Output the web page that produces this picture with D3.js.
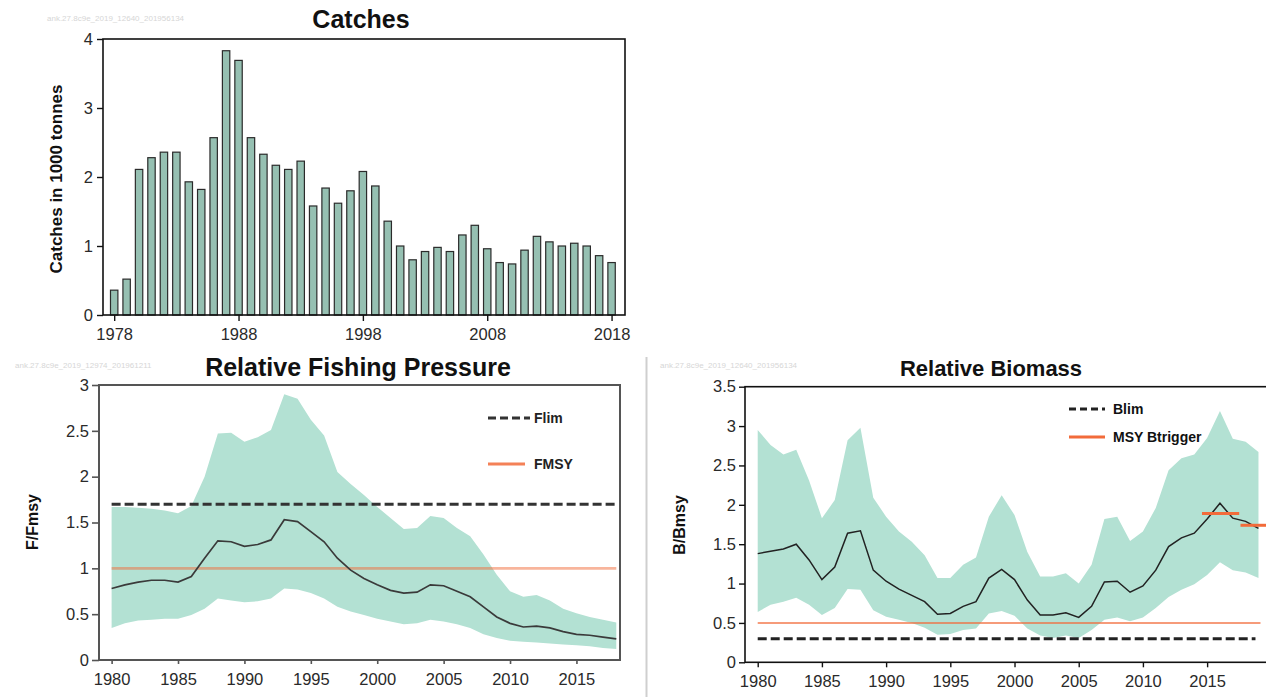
<!DOCTYPE html>
<html><head><meta charset="utf-8">
<script src="https://cdn.jsdelivr.net/npm/d3@7"></script>
<style>
body{margin:0;background:#fff;}
svg{display:block;font-family:"Liberation Sans",Arial,sans-serif;}
</style></head>
<body><svg id="c" width="1266" height="697"></svg>
<script>
// ---------- DATA ----------
const catchYears = d3.range(1978, 2019);
const catchValues = [0.36,0.52,2.11,2.28,2.36,2.36,1.93,1.82,2.57,3.83,3.69,2.57,2.33,2.17,2.11,2.23,1.58,1.84,1.62,1.80,
  2.08,1.87,1.36,1.00,0.80,0.92,0.98,0.92,1.16,1.30,0.96,0.76,0.74,0.94,1.14,1.06,1.00,1.04,1.00,0.86,0.76];
const catchYTicks = [0,1,2,3,4];
const catchXTicks = [1978,1988,1998,2008,2018];

const fYears = d3.range(1980, 2019);
const fMedian = [0.78,0.82,0.85,0.87,0.87,0.85,0.91,1.11,1.30,1.29,1.24,1.26,1.31,1.53,1.51,1.40,1.29,
  1.11,0.98,0.89,0.82,0.76,0.73,0.74,0.82,0.81,0.75,0.69,0.58,0.47,0.40,0.36,0.37,0.35,0.31,0.28,0.27,0.25,0.23];
const fHigh = [1.67,1.67,1.66,1.65,1.63,1.60,1.68,2.00,2.47,2.48,2.38,2.43,2.51,2.90,2.85,2.62,2.45,
  2.05,1.92,1.80,1.67,1.55,1.43,1.44,1.57,1.55,1.44,1.35,1.15,0.93,0.75,0.69,0.71,0.65,0.56,0.51,0.47,0.44,0.41];
const fLow = [0.35,0.40,0.43,0.44,0.45,0.45,0.49,0.56,0.67,0.65,0.63,0.64,0.67,0.78,0.77,0.73,0.67,
  0.58,0.53,0.49,0.45,0.42,0.39,0.40,0.44,0.42,0.39,0.35,0.28,0.24,0.21,0.20,0.19,0.18,0.17,0.16,0.15,0.13,0.12];
const fYTicks = [0,0.5,1,1.5,2,2.5,3];
const fXTicks = [1980,1985,1990,1995,2000,2005,2010,2015];
const Flim = 1.7, FMSY = 1.0;

const bYears = d3.range(1980, 2020);
const bMedian = [1.38,1.41,1.44,1.50,1.30,1.05,1.21,1.64,1.67,1.17,1.03,0.93,0.85,0.77,0.61,0.62,
  0.71,0.77,1.07,1.18,1.05,0.79,0.60,0.60,0.63,0.57,0.71,1.02,1.03,0.89,0.97,1.17,1.47,1.58,1.64,1.82,2.02,1.83,1.79,1.70];
const bHigh = [2.95,2.76,2.64,2.70,2.31,1.83,2.06,2.82,2.98,2.09,1.85,1.66,1.53,1.36,1.07,1.07,
  1.24,1.33,1.85,2.12,1.87,1.40,1.09,1.09,1.13,1.00,1.24,1.82,1.85,1.54,1.66,1.96,2.44,2.59,2.64,2.85,3.19,2.84,2.80,2.67];
const bLow = [0.64,0.73,0.77,0.82,0.73,0.60,0.69,0.93,0.92,0.66,0.58,0.54,0.50,0.44,0.35,0.36,
  0.41,0.43,0.62,0.65,0.59,0.43,0.34,0.31,0.34,0.31,0.41,0.54,0.57,0.52,0.57,0.69,0.83,0.92,0.99,1.11,1.27,1.17,1.14,1.07];
const bYTicks = [0,0.5,1,1.5,2,2.5,3,3.5];
const bXTicks = [1980,1985,1990,1995,2000,2005,2010,2015];
const Blim = 0.3, MSYBtrigger = 0.5;
const triggerSegStart = [2014.6, 2017.6];
const triggerSegEnd = [2017.5, 2019.7];
const triggerSegValue = [1.89, 1.74];

// ---------- STYLE ----------
const bandColor = "#b3e1d3";
const barColor = "#96c0b2";
const orange = "#f26b3a";
const tickFont = 16.5;

const svg = d3.select("#c");

function styleAxis(g, color, width){
  g.select(".domain").remove();
  g.selectAll(".tick line").attr("stroke", color).attr("stroke-width", width);
  g.selectAll(".tick text").attr("fill", "#2a2a2a").style("font-size", tickFont + "px")
    .style("font-family", '"Liberation Sans", Arial, sans-serif');
}

function watermark(x, y, t){
  svg.append("text").attr("x", x).attr("y", y).attr("fill", "#d6d6d6")
    .style("font-size", "8px").text(t);
}

// ================= CATCHES =================
{
  const L = 103, R = 625, T = 39, B = 315;
  const x = d3.scaleLinear().domain([1977.1, 2019.08]).range([L, R]);
  const y = d3.scaleLinear().domain([0, 4]).range([B, T]);
  const bw = 7.4;
  const g = svg.append("g");
  g.selectAll("rect.bar").data(catchValues).join("rect")
    .attr("x", (d, i) => x(catchYears[i]) - bw / 2)
    .attr("y", d => y(d))
    .attr("width", bw)
    .attr("height", d => y(0) - y(d))
    .attr("fill", barColor).attr("stroke", "#2b2b2b").attr("stroke-width", 1.2);
  g.append("rect").attr("x", L).attr("y", T).attr("width", R - L).attr("height", B - T)
    .attr("fill", "none").attr("stroke", "#111").attr("stroke-width", 1.6);
  const ya = g.append("g").attr("transform", `translate(${L},0)`)
    .call(d3.axisLeft(y).tickValues(catchYTicks).tickSize(6).tickPadding(4).tickFormat(d3.format("d")));
  styleAxis(ya, "#111", 1.4);
  const xa = g.append("g").attr("transform", `translate(0,${B})`)
    .call(d3.axisBottom(x).tickValues(catchXTicks).tickSize(6).tickPadding(7).tickFormat(d3.format("d")));
  styleAxis(xa, "#111", 1.4);
  svg.append("text").attr("x", 361).attr("y", 28).attr("text-anchor", "middle")
    .style("font-size", "25px").style("font-weight", "bold").attr("fill", "#111").text("Catches");
  svg.append("text").attr("transform", `translate(62,${(T + B) / 2 + 2}) rotate(-90)`)
    .attr("text-anchor", "middle").style("font-size", "17px").style("font-weight", "bold")
    .attr("fill", "#111").text("Catches in 1000 tonnes");
  watermark(47, 21, "ank.27.8c9e_2019_12640_201956134");
}

// ================= RELATIVE FISHING PRESSURE =================
{
  const L = 99, R = 620, T = 385, B = 660;
  const x = d3.scaleLinear().domain([1979.05, 2018.28]).range([L, R]);
  const y = d3.scaleLinear().domain([0, 3]).range([B, T]);
  const g = svg.append("g");
  const area = d3.area().x((d, i) => x(fYears[i])).y0((d, i) => y(fLow[i])).y1(d => y(d));
  g.append("path").datum(fHigh).attr("d", area).attr("fill", bandColor);
  const yr = d3.extent(fYears);
  g.append("line").attr("x1", x(yr[0])).attr("x2", x(yr[1])).attr("y1", y(FMSY)).attr("y2", y(FMSY))
    .attr("stroke", orange).attr("stroke-opacity", 0.5).attr("stroke-width", 2.6);
  g.append("line").attr("x1", x(yr[0])).attr("x2", R - 2).attr("y1", y(Flim)).attr("y2", y(Flim))
    .attr("stroke", "#333").attr("stroke-width", 3).attr("stroke-dasharray", "9,4");
  const line = d3.line().x((d, i) => x(fYears[i])).y(d => y(d));
  g.append("path").datum(fMedian).attr("d", line).attr("fill", "none")
    .attr("stroke", "#3a3a3a").attr("stroke-width", 1.7);
  g.append("rect").attr("x", L).attr("y", T).attr("width", R - L).attr("height", B - T)
    .attr("fill", "none").attr("stroke", "#555").attr("stroke-width", 2);
  const ya = g.append("g").attr("transform", `translate(${L},0)`)
    .call(d3.axisLeft(y).tickValues(fYTicks).tickSize(7).tickPadding(3).tickFormat(d => d));
  styleAxis(ya, "#555", 1.6);
  const xa = g.append("g").attr("transform", `translate(0,${B})`)
    .call(d3.axisBottom(x).tickValues(fXTicks).tickSize(4).tickPadding(9).tickFormat(d3.format("d")));
  styleAxis(xa, "#555", 1.6);
  // legend
  g.append("line").attr("x1", 488).attr("x2", 530).attr("y1", 418).attr("y2", 418)
    .attr("stroke", "#333").attr("stroke-width", 3).attr("stroke-dasharray", "8,4");
  g.append("text").attr("x", 534).attr("y", 423).style("font-size", "14px").style("font-weight", "bold")
    .attr("fill", "#222").text("Flim");
  g.append("line").attr("x1", 488).attr("x2", 525).attr("y1", 464).attr("y2", 464)
    .attr("stroke", orange).attr("stroke-opacity", 0.85).attr("stroke-width", 3);
  g.append("text").attr("x", 534).attr("y", 469).style("font-size", "14px").style("font-weight", "bold")
    .attr("fill", "#222").text("FMSY");
  svg.append("text").attr("x", 358).attr("y", 376).attr("text-anchor", "middle")
    .style("font-size", "25px").style("font-weight", "bold").attr("fill", "#111").text("Relative Fishing Pressure");
  svg.append("text").attr("transform", `translate(38,522) rotate(-90)`)
    .attr("text-anchor", "middle").style("font-size", "16px").style("font-weight", "bold")
    .attr("fill", "#111").text("F/Fmsy");
  watermark(15, 368, "ank.27.8c9e_2019_12974_201961211");
}

// separator
svg.append("line").attr("x1", 646.5).attr("x2", 646.5).attr("y1", 357).attr("y2", 697)
  .attr("stroke", "#cfcfcf").attr("stroke-width", 2);

// ================= RELATIVE BIOMASS =================
{
  const L = 745, R = 1264, T = 386.7, B = 662.3;
  const x = d3.scaleLinear().domain([1979.01, 2019.43]).range([L, R]);
  const y = d3.scaleLinear().domain([0, 3.5]).range([B, T]);
  const g = svg.append("g");
  const area = d3.area().x((d, i) => x(bYears[i])).y0((d, i) => y(bLow[i])).y1(d => y(d));
  g.append("path").datum(bHigh).attr("d", area).attr("fill", bandColor);
  const yr = d3.extent(bYears);
  g.append("line").attr("x1", x(yr[0])).attr("x2", x(yr[1]) + 2).attr("y1", y(MSYBtrigger)).attr("y2", y(MSYBtrigger))
    .attr("stroke", orange).attr("stroke-opacity", 0.9).attr("stroke-width", 1.4);
  g.append("line").attr("x1", x(yr[0])).attr("x2", x(yr[1]) - 3).attr("y1", y(Blim)).attr("y2", y(Blim))
    .attr("stroke", "#222").attr("stroke-width", 3).attr("stroke-dasharray", "9,4");
  const line = d3.line().x((d, i) => x(bYears[i])).y(d => y(d));
  g.append("path").datum(bMedian).attr("d", line).attr("fill", "none")
    .attr("stroke", "#222").attr("stroke-width", 1.5);
  g.selectAll("line.seg").data(triggerSegValue).join("line").attr("class", "seg")
    .attr("x1", (d, i) => x(triggerSegStart[i])).attr("x2", (d, i) => x(triggerSegEnd[i]))
    .attr("y1", d => y(d)).attr("y2", d => y(d))
    .attr("stroke", orange).attr("stroke-width", 3);
  g.append("rect").attr("x", L).attr("y", T).attr("width", R - L + 4).attr("height", B - T)
    .attr("fill", "none").attr("stroke", "#111").attr("stroke-width", 1.6);
  const ya = g.append("g").attr("transform", `translate(${L},0)`)
    .call(d3.axisLeft(y).tickValues(bYTicks).tickSize(6).tickPadding(3).tickFormat(d => d));
  styleAxis(ya, "#111", 1.4);
  const xa = g.append("g").attr("transform", `translate(0,${B})`)
    .call(d3.axisBottom(x).tickValues(bXTicks).tickSize(5).tickPadding(8).tickFormat(d3.format("d")));
  styleAxis(xa, "#111", 1.4);
  // legend
  g.append("line").attr("x1", 1069).attr("x2", 1105).attr("y1", 409).attr("y2", 409)
    .attr("stroke", "#222").attr("stroke-width", 3).attr("stroke-dasharray", "7,4");
  g.append("text").attr("x", 1113).attr("y", 414).style("font-size", "14px").style("font-weight", "bold")
    .attr("fill", "#111").text("Blim");
  g.append("line").attr("x1", 1069).attr("x2", 1105).attr("y1", 437).attr("y2", 437)
    .attr("stroke", orange).attr("stroke-width", 3);
  g.append("text").attr("x", 1113).attr("y", 442).style("font-size", "14px").style("font-weight", "bold")
    .attr("fill", "#111").text("MSY Btrigger");
  svg.append("text").attr("x", 991).attr("y", 376).attr("text-anchor", "middle")
    .style("font-size", "22px").style("font-weight", "bold").attr("fill", "#111").text("Relative Biomass");
  svg.append("text").attr("transform", `translate(685,525) rotate(-90)`)
    .attr("text-anchor", "middle").style("font-size", "16px").style("font-weight", "bold")
    .attr("fill", "#111").text("B/Bmsy");
  watermark(660, 368, "ank.27.8c9e_2019_12640_201956134");
}
</script></body></html>
